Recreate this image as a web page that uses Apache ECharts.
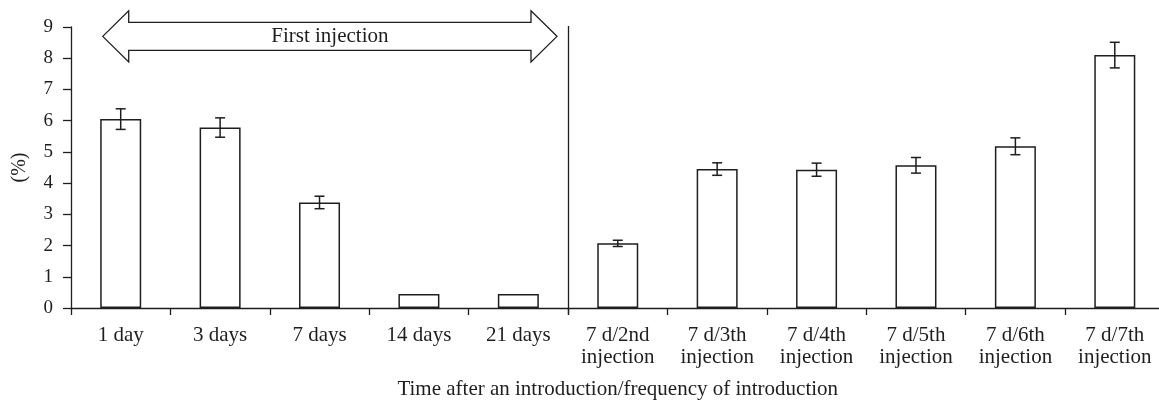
<!DOCTYPE html>
<html>
<head>
<meta charset="utf-8">
<script src="https://cdn.jsdelivr.net/npm/echarts@6/dist/echarts.min.js"></script>
<style>
  html, body { margin: 0; padding: 0; background: #fff; }
  #main { width: 1159px; height: 402px; }
</style>
</head>
<body>
<div id="main"></div>
<script>
// categories (x axis)
var categories = ['1 day', '3 days', '7 days', '14 days', '21 days',
    '7 d/2nd\ninjection', '7 d/3th\ninjection', '7 d/4th\ninjection',
    '7 d/5th\ninjection', '7 d/6th\ninjection', '7 d/7th\ninjection'];
// mean values (%)
var values = [6.05, 5.78, 3.38, 0.45, 0.45, 2.07, 4.45, 4.43, 4.57, 5.18, 8.1];
// half length of error bars
var errors = [0.33, 0.31, 0.2, 0, 0, 0.1, 0.2, 0.21, 0.25, 0.27, 0.41];
// y axis ticks
var yTicks = [0, 1, 2, 3, 4, 5, 6, 7, 8, 9];

var FONT = 'Liberation Serif';
var INK = '#1e1e1e';

var myChart = echarts.init(document.getElementById('main'));

//误差线
function renderErrorBar(params, api) {
    var err = api.value(2);
    if (!err) {
        return null;
    }
    var x = api.value(0), v = api.value(1);
    var hi = api.coord([x, v + err]);
    var lo = api.coord([x, v - err]);
    var cap = 5;
    var style = { stroke: INK, lineWidth: 1.5 };
    return {
        type: 'group',
        children: [
            { type: 'line', shape: { x1: hi[0], y1: hi[1], x2: lo[0], y2: lo[1] }, style: style },
            { type: 'line', shape: { x1: hi[0] - cap, y1: hi[1], x2: hi[0] + cap, y2: hi[1] }, style: style },
            { type: 'line', shape: { x1: lo[0] - cap, y1: lo[1], x2: lo[0] + cap, y2: lo[1] }, style: style }
        ]
    };
}

var option = {
    backgroundColor: '#fff',
    animation: false,
    grid: { left: 71, right: -5.5, top: 27, bottom: 94, containLabel: false, outerBoundsMode: 'none' },
    xAxis: {
        type: 'category',
        data: categories,
        name: 'Time after an introduction/frequency of introduction',
        nameLocation: 'middle',
        nameGap: 71,
        nameTextStyle: { fontFamily: FONT, fontSize: 21, color: INK, verticalAlign: 'top' },
        axisLine: { lineStyle: { color: INK, width: 1.3 } },
        axisTick: { show: true, length: 7, lineStyle: { color: INK, width: 1.3 } },
        axisLabel: {
            interval: 0, margin: 16, fontFamily: FONT, fontSize: 21,
            lineHeight: 22, color: INK
        }
    },
    yAxis: {
        type: 'value',
        min: yTicks[0],
        max: yTicks[yTicks.length - 1],
        interval: 1,
        name: '(%)',
        nameLocation: 'middle',
        nameGap: 41,
        nameTextStyle: { fontFamily: FONT, fontSize: 20, color: INK },
        splitLine: { show: false },
        axisLine: { show: true, lineStyle: { color: INK, width: 1.3 } },
        axisTick: { show: true, length: 8, lineStyle: { color: INK, width: 1.3 } },
        axisLabel: { margin: 18, fontFamily: FONT, fontSize: 19, color: INK }
    },
    series: [{
        type: 'bar',
        data: values,
        barWidth: 41,
        itemStyle: { color: '#fff', borderColor: INK, borderWidth: 1.5 }
    }, {
        type: 'custom',
        renderItem: renderErrorBar,
        encode: { x: 0, y: 1 },
        z: 5,
        data: values.map(function (v, i) { return [i, v, errors[i]]; })
    }]
};
myChart.setOption(option);

//分隔线和"First injection"箭头
function drawAnnotations() {
    var p4 = myChart.convertToPixel({ xAxisIndex: 0, yAxisIndex: 0 }, [4, 0]);
    var p5 = myChart.convertToPixel({ xAxisIndex: 0, yAxisIndex: 0 }, [5, 0]);
    var p0 = myChart.convertToPixel({ xAxisIndex: 0, yAxisIndex: 0 }, [0, 8.7]);
    var top = myChart.convertToPixel({ yAxisIndex: 0 }, 9);
    var divX = Math.round((p4[0] + p5[0]) / 2) + 0.5;

    var left = p0[0] - 18, right = divX - 11.5, cy = p0[1];
    var sh = 14, hh = 25.5, hl = 26;
    var pts = [
        [left, cy], [left + hl, cy - hh], [left + hl, cy - sh], [right - hl, cy - sh],
        [right - hl, cy - hh], [right, cy], [right - hl, cy + hh], [right - hl, cy + sh],
        [left + hl, cy + sh], [left + hl, cy + hh]
    ];
    myChart.setOption({
        graphic: [{
            type: 'line',
            shape: { x1: divX, y1: top - 1, x2: divX, y2: p4[1] + 6 },
            style: { stroke: INK, lineWidth: 1.3 }
        }, {
            type: 'polygon',
            shape: { points: pts },
            style: { fill: '#fff', stroke: INK, lineWidth: 1.3 }
        }, {
            type: 'text',
            x: (left + right) / 2,
            y: cy,
            style: {
                text: 'First injection', fill: INK, font: '21px "' + FONT + '"',
                align: 'center', verticalAlign: 'middle'
            }
        }]
    });
}
drawAnnotations();
</script>
</body>
</html>
